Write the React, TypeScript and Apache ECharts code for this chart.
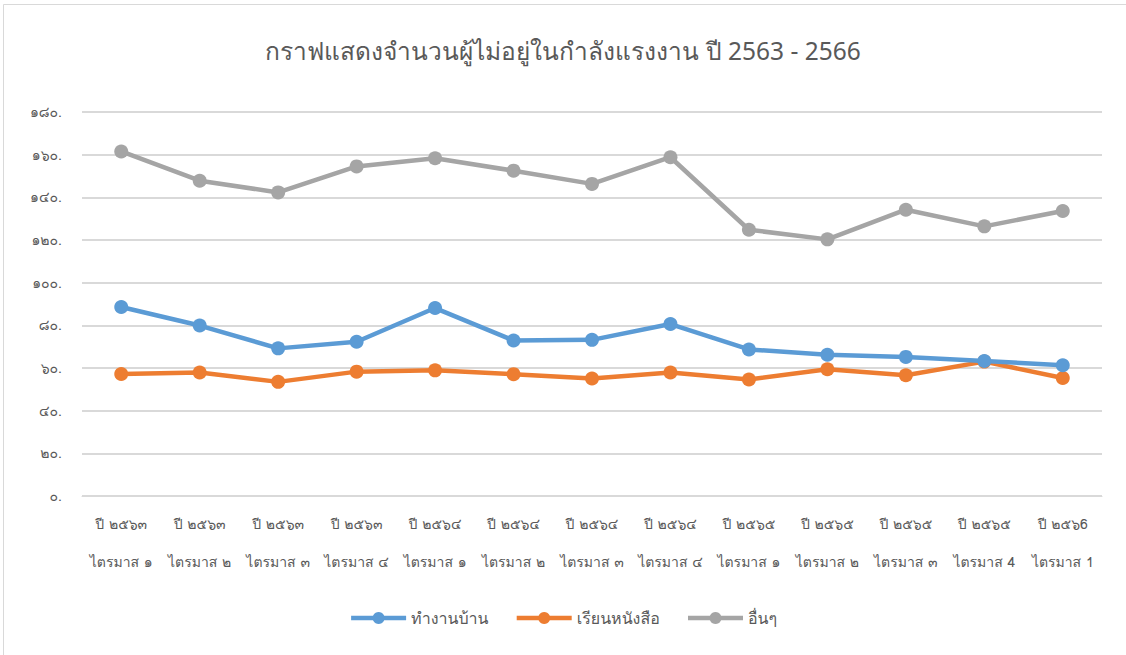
import React, { useEffect, useRef } from "react";
import * as echarts from "echarts";

const categories = [
  "ปี ๒๕๖๓\nไตรมาส ๑",
  "ปี ๒๕๖๓\nไตรมาส ๒",
  "ปี ๒๕๖๓\nไตรมาส ๓",
  "ปี ๒๕๖๓\nไตรมาส ๔",
  "ปี ๒๕๖๔\nไตรมาส ๑",
  "ปี ๒๕๖๔\nไตรมาส ๒",
  "ปี ๒๕๖๔\nไตรมาส ๓",
  "ปี ๒๕๖๔\nไตรมาส ๔",
  "ปี ๒๕๖๕\nไตรมาส ๑",
  "ปี ๒๕๖๕\nไตรมาส ๒",
  "ปี ๒๕๖๕\nไตรมาส ๓",
  "ปี ๒๕๖๕\nไตรมาส 4",
  "ปี ๒๕๖6\nไตรมาส 1",
];

const housework = [88.6, 79.9, 69.2, 72.3, 88.1, 72.9, 73.2, 80.6, 68.7, 66.2, 65.2, 63.3, 61.3];
const studying = [57.2, 57.9, 53.5, 58.3, 58.9, 57.1, 55.1, 57.9, 54.6, 59.4, 56.6, 63.0, 55.3];
const others = [161.5, 147.8, 142.3, 154.5, 158.3, 152.5, 146.3, 158.8, 124.8, 120.3, 134.2, 126.4, 133.6];

const yTickLabels = ["๐.", "๒๐.", "๔๐.", "๖๐.", "๘๐.", "๑๐๐.", "๑๒๐.", "๑๔๐.", "๑๖๐.", "๑๘๐."];

const seriesNames = ["ทำงานบ้าน", "เรียนหนังสือ", "อื่นๆ"];
const colors = ["#5B9BD5", "#ED7D31", "#A5A5A5"];

const titleText = "กราฟแสดงจำนวนผู้ไม่อยู่ในกำลังแรงงาน ปี 2563 - 2566";

const thaiFont = "Loma, Garuda, 'Noto Sans Thai', 'Noto Sans', sans-serif";

export default function App() {
  const ref = useRef<HTMLDivElement>(null);
  useEffect(() => {
    if (!ref.current) return;
    const chart = echarts.init(ref.current, undefined, { renderer: "svg" });
    const dataSets = [housework, studying, others];
    chart.setOption({
      animation: false,
      backgroundColor: "#ffffff",
      textStyle: { fontFamily: thaiFont },
      title: {
        text: titleText,
        left: "center",
        top: 33,
        textStyle: {
          fontSize: 24.5,
          fontWeight: "normal",
          color: "#595959",
          fontFamily: "'Noto Sans', sans-serif",
        },
      },
      graphic: [
        {
          type: "rect",
          shape: { x: 3.5, y: 4.5, width: 1300, height: 1000 },
          style: { fill: "none", stroke: "#D9D9D9", lineWidth: 1 },
          silent: true,
        },
      ],
      legend: {
        bottom: 24,
        left: "center",
        itemWidth: 55,
        itemHeight: 15,
        itemGap: 26,
        lineStyle: { width: 4.5 },
        textStyle: { fontSize: 16, color: "#595959", fontFamily: thaiFont },
        data: seriesNames,
      },
      grid: { left: 82, right: 24, top: 112, bottom: 159 },
      xAxis: {
        type: "category",
        data: categories,
        boundaryGap: true,
        axisLine: { lineStyle: { color: "#D9D9D9", width: 1 } },
        axisTick: { show: false },
        axisLabel: {
          color: "#595959",
          fontSize: 14,
          lineHeight: 38,
          margin: 9,
          interval: 0,
          fontFamily: thaiFont,
        },
      },
      yAxis: {
        type: "value",
        min: 0,
        max: 180,
        interval: 20,
        axisLine: { show: false },
        axisTick: { show: false },
        splitLine: { lineStyle: { color: "#D9D9D9", width: 2 } },
        axisLabel: {
          color: "#595959",
          fontSize: 14,
          margin: 20,
          fontFamily: thaiFont,
          formatter: (v: number) => yTickLabels[Math.round(v / 20)] ?? "",
        },
      },
      series: dataSets.map((d, i) => ({
        name: seriesNames[i],
        type: "line",
        data: d,
        symbol: "circle",
        symbolSize: 14,
        lineStyle: { width: 4.5, color: colors[i] },
        itemStyle: { color: colors[i] },
        z: 3 - i,
      })),
    });
    return () => chart.dispose();
  }, []);
  return (
    <div
      ref={ref}
      style={{ position: "fixed", left: 0, top: 0, width: 1126, height: 655 }}
    />
  );
}
